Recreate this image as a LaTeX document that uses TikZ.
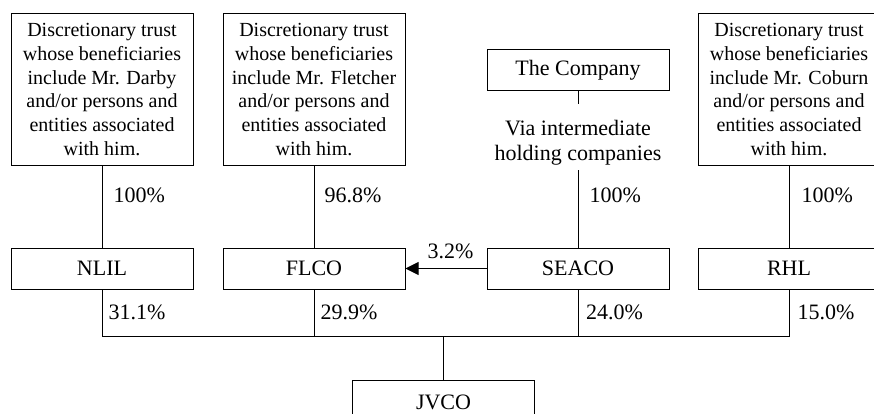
\documentclass[tikz,border=0pt]{standalone}
\usepackage{fontspec}
\setmainfont{Liberation Serif}
\usetikzlibrary{arrows.meta}
\begin{document}
\begin{tikzpicture}[x=1pt,y=-1pt,
  line width=1pt,
  box/.style={draw, line width=1pt, minimum width=182pt, minimum height=41pt, inner sep=0pt, font=\fontsize{22}{24}\selectfont},
  trust/.style={draw, line width=1pt, minimum width=182pt, minimum height=151pt, inner sep=0pt, align=center, font=\fontsize{20}{23.7}\selectfont},
  pct/.style={anchor=west, inner sep=0pt, font=\fontsize{22}{24}\selectfont},
  viatext/.style={align=center, inner sep=0pt, font=\fontsize{22}{25}\selectfont}]
\useasboundingbox (0,0) rectangle (874,414);
\clip (0,0) rectangle (874,414);

\node[trust] (t1) at (102,89.5) {Discretionary trust\\whose beneficiaries\\include Mr. Darby\\and/or persons and\\entities associated\\with him.};
\node[trust] (t2) at (314,89.5) {Discretionary trust\\whose beneficiaries\\include Mr. Fletcher\\and/or persons and\\entities associated\\with him.};
\node[trust] (t3) at (789,89.5) {Discretionary trust\\whose beneficiaries\\include Mr. Coburn\\and/or persons and\\entities associated\\with him.};
\node[box] (comp) at (578,70.5) {The Company};
\node[viatext] (via) at (578,143) {Via intermediate\\holding companies};

\node[box] (nlil) at (102,268.5) {NLIL};
\node[box] (flco) at (314,268.5) {FLCO};
\node[box] (seaco) at (578,268.5) {SEACO};
\node[box] (rhl) at (789,268.5) {RHL};
\node[box, minimum height=44pt] (jvco) at (443.5,402) {JVCO};

\coordinate (bus) at (443.5,336);

\draw (t1.south) -- (nlil.north);
\draw (t2.south) -- (flco.north);
\draw (t3.south) -- (rhl.north);
\draw (comp.south) -- ++(0,12.5);
\draw (seaco.north) -- ++(0,-78);

\draw (nlil.south) |- (rhl.south |- bus) -- (rhl.south);
\draw (flco.south) -- (flco.south |- bus);
\draw (seaco.south) -- (seaco.south |- bus);
\draw (jvco.north) -- (bus);

\draw[-{Triangle[length=13pt,width=13pt]}] (seaco.west) -- (flco.east);

\node[pct] at (113,195) {100\%};
\node[pct] at (324,195) {96.8\%};
\node[pct] at (589,195) {100\%};
\node[pct] at (801,195) {100\%};
\node[pct] at (427,251) {3.2\%};
\node[pct] at (108,312) {31.1\%};
\node[pct] at (320,312) {29.9\%};
\node[pct] at (585.5,312) {24.0\%};
\node[pct] at (797,312) {15.0\%};
\end{tikzpicture}
\end{document}
